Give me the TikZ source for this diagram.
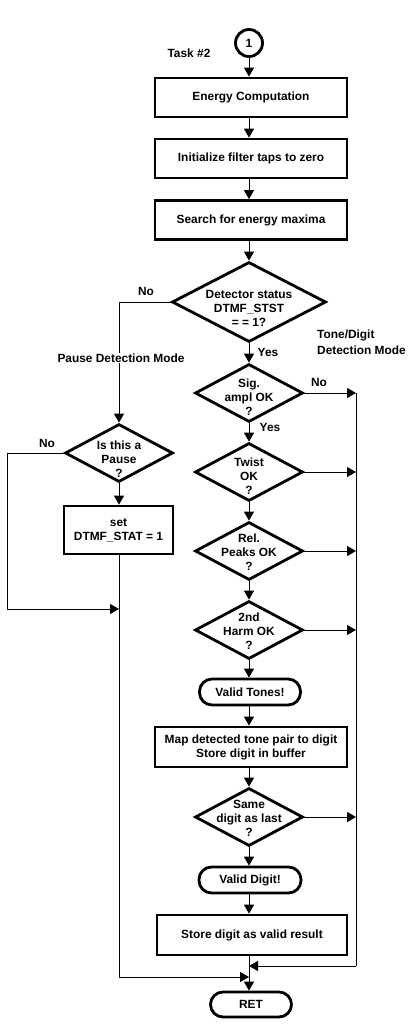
\documentclass[tikz,border=0pt]{standalone}
\usepackage{fontspec}
\setmainfont{Liberation Sans}
\usetikzlibrary{shapes.geometric,arrows.meta}
\begin{document}
\begin{tikzpicture}[x=1bp,y=-1bp,
  every node/.style={font=\fontsize{11.9bp}{14bp}\selectfont\bfseries, inner sep=0pt},
  proc/.style={draw, line width=2.8bp, rectangle, minimum height=39bp, align=center},
  dec/.style={draw, diamond, line width=2.8bp, minimum width=108bp, minimum height=58bp},
  dtxt/.style={align=center},
  term/.style={draw, rectangle, rounded corners=12.5bp, line width=2.8bp, minimum height=26bp},
  conn/.style={line width=1bp},
  arr/.style={line width=1bp, -{Triangle[length=9bp,width=10bp]}},
  lbl/.style={}
]
\useasboundingbox (0,0) rectangle (419,1032);

% start connector
\node[draw, circle, line width=2.8bp, minimum size=27bp] (c1) at (249,43) {1};
\node[lbl] (task) at (189,53) {Task \#2};

% main column
\node[proc, minimum width=192bp] (e1) at (251,97.5) {Energy Computation};
\node[proc, minimum width=192bp] (e2) at (251,158.5) {Initialize filter taps to zero};
\node[proc, minimum width=192bp] (e3) at (251,220) {Search for energy maxima};

\node[dec, minimum width=154bp, minimum height=80bp] (d1) at (249,302) {};
\node[dtxt] (t1) at (249,308) {Detector status\\DTMF\_STST\\= = 1?};

\node[dec] (d2) at (249,393) {};
\node[dtxt] (t2) at (249,397) {Sig.\\ampl OK\\?};
\node[dec] (d3) at (249,472) {};
\node[dtxt] (t3) at (249,476) {Twist\\OK\\?};
\node[dec] (d4) at (249,551) {};
\node[dtxt] (t4) at (249,552) {Rel.\\Peaks OK\\?};
\node[dec] (d5) at (249,630) {};
\node[dtxt] (t5) at (249,631) {2nd\\Harm OK\\?};

\node[term, minimum width=101bp] (vt) at (250,692) {Valid Tones!};
\node[proc, minimum width=192bp, minimum height=40bp] (map) at (251,747) {Map detected tone pair to digit\\Store digit in buffer};

\node[dec] (d6) at (249,817) {};
\node[dtxt] (t6) at (249,818) {Same\\digit as last\\?};

\node[term, minimum width=102bp] (vd) at (250,880) {Valid Digit!};
\node[proc, minimum width=190bp, minimum height=40bp] (store) at (252,935) {Store digit as valid result};
\node[term, minimum width=81bp, minimum height=25bp] (ret) at (251,1004.5) {RET};

% left column
\node[dec] (pause) at (119,453) {};
\node[dtxt] (tp) at (119,459) {Is this a\\Pause\\?};
\node[proc, minimum width=109bp, minimum height=48bp] (set) at (118.5,530) {set\\DTMF\_STAT = 1};

% coordinates for free ends
\coordinate (R) at (356,966);
\coordinate (J1) at (249,966);
\coordinate (J2) at (249,977);
\coordinate (J3) at (119,609);
\coordinate (L1) at (7,609);

% main flow
\draw[arr] (c1.south) -- (c1.south |- e1.north);
\draw[arr] (e1.south -| c1) -- (e2.north -| c1);
\draw[arr] (e2.south -| c1) -- (e3.north -| c1);
\draw[arr] (e3.south -| c1) -- (d1.north);
\draw[arr] (d1.south) -- (d2.north);
\draw[arr] (d2.south) -- (d3.north);
\draw[arr] (d3.south) -- (d4.north);
\draw[arr] (d4.south) -- (d5.north);
\draw[arr] (d5.south) -- (vt.north -| d5);
\draw[arr] (vt.south -| d5) -- (map.north -| d5);
\draw[arr] (map.south -| d5) -- (d6.north);
\draw[arr] (d6.south) -- (vd.north -| d6);
\draw[arr] (vd.south -| d6) -- (store.north -| d6);
\draw[arr] (store.south -| d6) -- (ret.north -| d6);

% right-hand "No" exits
\draw[arr] (d2.east) -- (d2.east -| R);
\draw[arr] (d3.east) -- (d3.east -| R);
\draw[arr] (d4.east) -- (d4.east -| R);
\draw[arr] (d5.east) -- (d5.east -| R);
\draw[arr] (d6.east) -- (d6.east -| R);
\draw[conn] (d2.east -| R) -- (R);
\draw[arr] (R) -- (J1);

% left branch
\draw[arr] (d1.west) -| (pause.north);
\draw[arr] (pause.south) -- (set.north -| pause);
\draw[arr] (pause.west) -| (L1) -- (J3);
\draw[arr] (set.south -| pause) |- (J2);

% labels
\node[lbl] (no1) at (146,291) {No};
\node[lbl, fill=white, inner sep=1bp] (pdm) at (121,358) {Pause Detection Mode};
\node[lbl] (yes1) at (268,352) {Yes};
\node[lbl, align=left, anchor=west, font=\fontsize{11.9bp}{16bp}\selectfont\bfseries] (tdm) at (317,342) {Tone/Digit\\Detection Mode};
\node[lbl] (no2) at (319,382) {No};
\node[lbl] (yes2) at (270,427) {Yes};
\node[lbl] (no3) at (47,443) {No};
\end{tikzpicture}
\end{document}
